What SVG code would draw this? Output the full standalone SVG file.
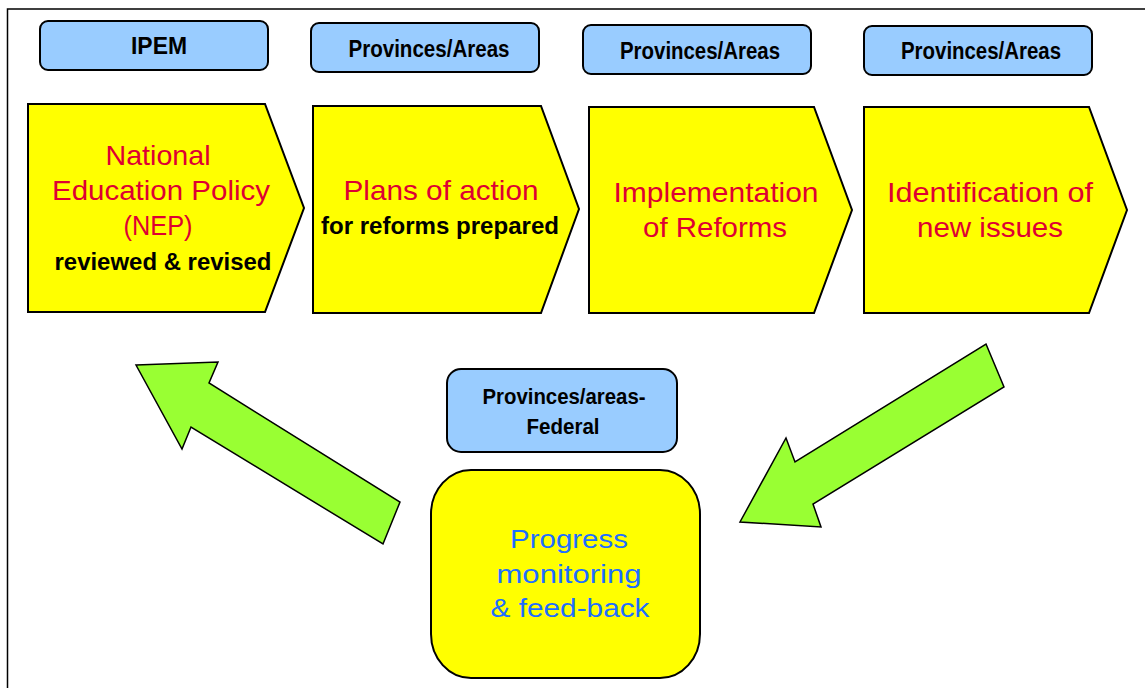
<svg xmlns="http://www.w3.org/2000/svg" width="1145" height="688" viewBox="0 0 1145 688">
<style>
.lbl{fill:#99CCFF;stroke:#000;stroke-width:2}
.chev{fill:#FFFF00;stroke:#000;stroke-width:2}
.arr{fill:#99FF33;stroke:#000;stroke-width:1.5}
.lt{font-family:"Liberation Sans",Arial,sans-serif;font-weight:bold;font-size:23px;fill:#000;text-anchor:middle}
.rt{font-family:"Liberation Sans",Arial,sans-serif;font-size:28px;fill:#DD0033;text-anchor:middle}
.bt{font-family:"Liberation Sans",Arial,sans-serif;font-weight:bold;font-size:24px;fill:#000;text-anchor:middle}
.pt{font-family:"Liberation Sans",Arial,sans-serif;font-size:26px;fill:#1E6EFF;text-anchor:middle}
</style>
<rect x="0" y="0" width="1145" height="688" fill="#fff"/>
<rect x="7.5" y="9" width="1200" height="700" fill="none" stroke="#000" stroke-width="1.5"/>
<g id="connectors">
<polygon class="arr" points="136,365 218,362 209,383 400,502 383,544 191,427 182,449"/>
<polygon class="arr" points="986,344 1004,387 813,504 821,527 740,522 786,438 795,462"/>
</g>
<g id="label-ipem">
<rect class="lbl" x="40" y="21" width="228" height="49" rx="8"/>
<text class="lt" x="159" y="54" textLength="56" lengthAdjust="spacingAndGlyphs">IPEM</text>
</g>
<g id="label-prov1">
<rect class="lbl" x="311" y="23" width="228" height="49" rx="8"/>
<text class="lt" x="429" y="57" textLength="161" lengthAdjust="spacingAndGlyphs">Provinces/Areas</text>
</g>
<g id="label-prov2">
<rect class="lbl" x="583" y="25" width="228" height="49" rx="8"/>
<text class="lt" x="700" y="59" textLength="160" lengthAdjust="spacingAndGlyphs">Provinces/Areas</text>
</g>
<g id="label-prov3">
<rect class="lbl" x="864" y="26" width="228" height="49" rx="8"/>
<text class="lt" x="981" y="59" textLength="160" lengthAdjust="spacingAndGlyphs">Provinces/Areas</text>
</g>
<g id="step-nep">
<polygon class="chev" points="28,104 265,104 304,208 265,312 28,312"/>
<text class="rt" x="158" y="165" textLength="105" lengthAdjust="spacingAndGlyphs">National</text>
<text class="rt" x="161" y="200" textLength="218" lengthAdjust="spacingAndGlyphs">Education Policy</text>
<text class="rt" x="158" y="235" textLength="69" lengthAdjust="spacingAndGlyphs">(NEP)</text>
<text class="bt" x="163" y="270" textLength="217" lengthAdjust="spacingAndGlyphs">reviewed &amp; revised</text>
</g>
<g id="step-plans">
<polygon class="chev" points="313,106 541,106 579,209 541,313 313,313"/>
<text class="rt" x="441" y="200" textLength="195" lengthAdjust="spacingAndGlyphs">Plans of action</text>
<text class="bt" x="440" y="234" textLength="238" lengthAdjust="spacingAndGlyphs">for reforms prepared</text>
</g>
<g id="step-impl">
<polygon class="chev" points="589,107 814,107 852,210 814,313 589,313"/>
<text class="rt" x="716" y="202" textLength="205" lengthAdjust="spacingAndGlyphs">Implementation</text>
<text class="rt" x="715" y="237" textLength="144" lengthAdjust="spacingAndGlyphs">of Reforms</text>
</g>
<g id="step-ident">
<polygon class="chev" points="864,107 1089,107 1127,210 1089,313 864,313"/>
<text class="rt" x="990" y="202" textLength="206" lengthAdjust="spacingAndGlyphs">Identification of</text>
<text class="rt" x="990" y="237" textLength="146" lengthAdjust="spacingAndGlyphs">new issues</text>
</g>
<g id="label-federal">
<rect class="lbl" x="447" y="369" width="230" height="83" rx="14"/>
<text class="lt" x="564" y="404" textLength="163" lengthAdjust="spacingAndGlyphs" style="font-size:22px">Provinces/areas-</text>
<text class="lt" x="563" y="434" textLength="73" lengthAdjust="spacingAndGlyphs" style="font-size:22px">Federal</text>
</g>
<g id="step-progress">
<rect class="chev" x="431" y="470" width="269" height="208" rx="40" ry="44"/>
<text class="pt" x="569" y="548" textLength="118" lengthAdjust="spacingAndGlyphs">Progress</text>
<text class="pt" x="569" y="583" textLength="145" lengthAdjust="spacingAndGlyphs">monitoring</text>
<text class="pt" x="570" y="617" textLength="159" lengthAdjust="spacingAndGlyphs">&amp; feed-back</text>
</g>
</svg>
